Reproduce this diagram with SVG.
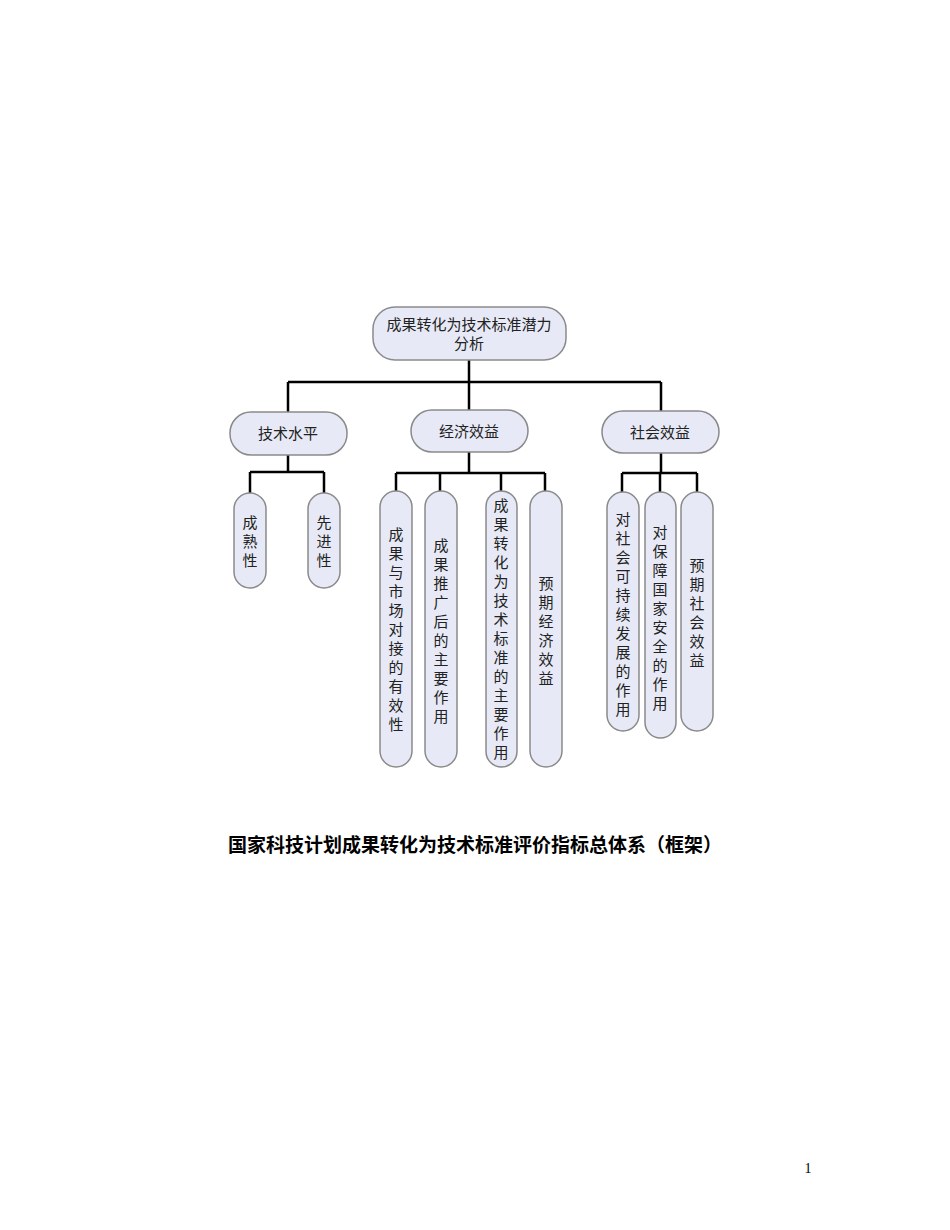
<svg xmlns="http://www.w3.org/2000/svg" width="950" height="1230" viewBox="0 0 950 1230">
<style>
.n{fill:#e7eaf6;stroke:#8a8a8a;stroke-width:1.5}
.t{font-family:"Liberation Serif","Noto Sans CJK SC",serif;font-size:15px;fill:#222;text-anchor:middle}
.c{stroke:#000;stroke-width:2.5;fill:none}
</style>
<rect width="950" height="1230" fill="#fff"/>
<g id="connectors">
<path class="c" d="M469 360V412M288 382H661M288 382V412M661 382V411"/>
<path class="c" d="M288 455V472M250 472H324M250 472V493M324 472V493"/>
<path class="c" d="M469 452V473M396 473H545M396 473V491M440 473V491M501 473V491M545 473V491"/>
<path class="c" d="M661 453V473M622 473H697M622 473V492M660 473V492M697 473V492"/>
</g>
<g id="root"><rect class="n" x="373" y="307" width="193" height="53" rx="22"/>
<text class="t" x="469" y="330">成果转化为技术标准潜力</text><text class="t" x="469" y="349">分析</text></g>
<g id="tech"><rect class="n" x="230" y="412" width="117" height="43" rx="21"/><text class="t" x="288" y="439">技术水平</text></g>
<g id="econ"><rect class="n" x="411" y="410" width="117" height="42" rx="21"/><text class="t" x="469" y="437">经济效益</text></g>
<g id="soc"><rect class="n" x="602" y="411" width="117" height="42" rx="21"/><text class="t" x="660" y="438">社会效益</text></g>
<g id="l1"><rect class="n" x="234" y="493" width="32" height="95" rx="16"/><text class="t" x="250" y="528">成</text><text class="t" x="250" y="547">熟</text><text class="t" x="250" y="566">性</text></g>
<g id="l2"><rect class="n" x="308" y="493" width="32" height="95" rx="16"/><text class="t" x="324" y="528">先</text><text class="t" x="324" y="547">进</text><text class="t" x="324" y="566">性</text></g>
<g id="e1"><rect class="n" x="380" y="491" width="32" height="276" rx="16"/>
<text class="t" x="396" y="540">成</text><text class="t" x="396" y="559">果</text><text class="t" x="396" y="578">与</text><text class="t" x="396" y="597">市</text><text class="t" x="396" y="616">场</text><text class="t" x="396" y="635">对</text><text class="t" x="396" y="654">接</text><text class="t" x="396" y="673">的</text><text class="t" x="396" y="692">有</text><text class="t" x="396" y="711">效</text><text class="t" x="396" y="730">性</text></g>
<g id="e2"><rect class="n" x="425" y="491" width="32" height="276" rx="16"/>
<text class="t" x="441" y="551">成</text><text class="t" x="441" y="570">果</text><text class="t" x="441" y="589">推</text><text class="t" x="441" y="608">广</text><text class="t" x="441" y="627">后</text><text class="t" x="441" y="646">的</text><text class="t" x="441" y="665">主</text><text class="t" x="441" y="684">要</text><text class="t" x="441" y="703">作</text><text class="t" x="441" y="722">用</text></g>
<g id="e3"><rect class="n" x="486" y="491" width="31" height="276" rx="15.5"/>
<text class="t" x="501" y="511">成</text><text class="t" x="501" y="530">果</text><text class="t" x="501" y="549">转</text><text class="t" x="501" y="568">化</text><text class="t" x="501" y="587">为</text><text class="t" x="501" y="606">技</text><text class="t" x="501" y="625">术</text><text class="t" x="501" y="644">标</text><text class="t" x="501" y="663">准</text><text class="t" x="501" y="682">的</text><text class="t" x="501" y="701">主</text><text class="t" x="501" y="720">要</text><text class="t" x="501" y="739">作</text><text class="t" x="501" y="758">用</text></g>
<g id="e4"><rect class="n" x="530" y="491" width="32" height="276" rx="16"/>
<text class="t" x="546" y="589">预</text><text class="t" x="546" y="608">期</text><text class="t" x="546" y="627">经</text><text class="t" x="546" y="646">济</text><text class="t" x="546" y="665">效</text><text class="t" x="546" y="684">益</text></g>
<g id="s1"><rect class="n" x="607" y="492" width="32" height="239" rx="16"/>
<text class="t" x="623" y="525">对</text><text class="t" x="623" y="544">社</text><text class="t" x="623" y="563">会</text><text class="t" x="623" y="582">可</text><text class="t" x="623" y="601">持</text><text class="t" x="623" y="620">续</text><text class="t" x="623" y="639">发</text><text class="t" x="623" y="658">展</text><text class="t" x="623" y="677">的</text><text class="t" x="623" y="696">作</text><text class="t" x="623" y="715">用</text></g>
<g id="s2"><rect class="n" x="645" y="492" width="31" height="246" rx="15.5"/>
<text class="t" x="660" y="538">对</text><text class="t" x="660" y="557">保</text><text class="t" x="660" y="576">障</text><text class="t" x="660" y="595">国</text><text class="t" x="660" y="614">家</text><text class="t" x="660" y="633">安</text><text class="t" x="660" y="652">全</text><text class="t" x="660" y="671">的</text><text class="t" x="660" y="690">作</text><text class="t" x="660" y="709">用</text></g>
<g id="s3"><rect class="n" x="681" y="492" width="32" height="239" rx="16"/>
<text class="t" x="697" y="571">预</text><text class="t" x="697" y="590">期</text><text class="t" x="697" y="609">社</text><text class="t" x="697" y="628">会</text><text class="t" x="697" y="647">效</text><text class="t" x="697" y="666">益</text></g>
<text x="475" y="852" style="font-family:'Noto Sans CJK SC',sans-serif;font-size:19px;font-weight:bold;text-anchor:middle">国家科技计划成果转化为技术标准评价指标总体系（框架）</text>
<text x="808" y="1173" style="font-family:'Liberation Serif',serif;font-size:14px;text-anchor:middle">1</text>
</svg>
